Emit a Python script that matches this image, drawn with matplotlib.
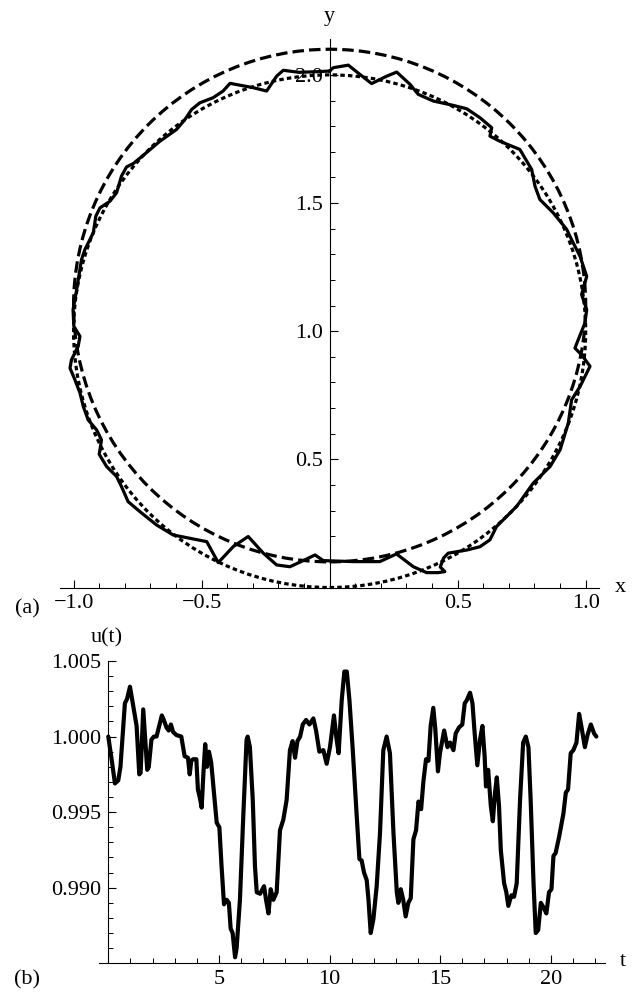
import matplotlib
matplotlib.use("Agg")
import matplotlib.pyplot as plt
import numpy as np
from matplotlib.patches import Circle
from matplotlib.ticker import FixedLocator

plt.rcParams['font.family'] = ['Liberation Serif', 'DejaVu Serif']

# ---- panel (a): reference circles and the perturbed orbit ----
dashed_center = (0.0, 1.1)
dashed_radius = 1.0
dotted_center = (0.0, 1.0)
dotted_radius = 1.0

orbit_x = [0.000, -0.060, -0.120, -0.181, -0.207, -0.246, -0.298, -0.389, -0.416, -0.455,
           -0.507, -0.539, -0.565, -0.598, -0.663, -0.728, -0.767, -0.793, -0.813, -0.832,
           -0.858, -0.897, -0.913, -0.923, -0.956, -0.969, -0.988, -1.002, -0.999, -0.975,
           -0.982, -1.008, -1.014, -0.995, -0.975, -0.962, -0.943, -0.910, -0.891, -0.897,
           -0.900, -0.871, -0.832, -0.813, -0.787, -0.741, -0.676, -0.611, -0.546, -0.480,
           -0.435, -0.376, -0.318, -0.259, -0.207, -0.155, -0.103, -0.057, -0.025, 0.092,
           0.196, 0.261, 0.327, 0.379, 0.424, 0.450, 0.432, 0.445, 0.463, 0.535,
           0.587, 0.626, 0.652, 0.691, 0.730, 0.795, 0.861, 0.900, 0.932, 0.945,
           0.978, 1.004, 1.017, 0.984, 0.958, 0.971, 0.997, 1.004, 0.984, 1.004,
           0.978, 0.945, 0.926, 0.873, 0.821, 0.802, 0.789, 0.743, 0.704, 0.665,
           0.626, 0.633, 0.587, 0.535, 0.483, 0.405, 0.346, 0.314, 0.262, 0.223,
           0.164, 0.118, 0.073, 0.014, 0.000]
orbit_y = [2.015, 2.012, 2.010, 2.018, 1.995, 1.937, 1.950, 1.967, 1.937, 1.911,
           1.891, 1.865, 1.826, 1.787, 1.741, 1.686, 1.654, 1.641, 1.605, 1.540,
           1.507, 1.481, 1.449, 1.384, 1.318, 1.279, 1.162, 1.084, 1.019, 0.980,
           0.941, 0.889, 0.856, 0.811, 0.759, 0.706, 0.654, 0.615, 0.576, 0.537,
           0.520, 0.472, 0.433, 0.394, 0.335, 0.296, 0.244, 0.205, 0.192, 0.179,
           0.097, 0.160, 0.199, 0.134, 0.088, 0.081, 0.105, 0.127, 0.105, 0.101,
           0.101, 0.131, 0.081, 0.058, 0.058, 0.062, 0.080, 0.115, 0.134, 0.146,
           0.159, 0.186, 0.238, 0.277, 0.316, 0.407, 0.472, 0.537, 0.641, 0.732,
           0.784, 0.837, 0.863, 0.908, 0.934, 0.967, 1.032, 1.084, 1.143, 1.214,
           1.292, 1.357, 1.397, 1.462, 1.514, 1.566, 1.631, 1.709, 1.725, 1.741,
           1.761, 1.794, 1.833, 1.868, 1.881, 1.898, 1.924, 1.963, 2.011, 1.995,
           1.966, 2.002, 2.038, 2.028, 2.015]

xticks_a = [-1.0, -0.5, 0.5, 1.0]
xtick_labels_a = ['\u22121.0', '\u22120.5', '0.5', '1.0']
yticks_a = [0.5, 1.0, 1.5, 2.0]
ytick_labels_a = ['0.5', '1.0', '1.5', '2.0']

# ---- panel (b): u(t) ----
t_vals = [0.00, 0.15, 0.30, 0.45, 0.55, 0.75, 0.85, 0.98, 1.05, 1.28,
          1.40, 1.46, 1.58, 1.65, 1.76, 1.83, 1.95, 2.06, 2.18, 2.30,
          2.42, 2.51, 2.63, 2.73, 2.83, 2.93, 3.08, 3.30, 3.45, 3.60,
          3.68, 3.75, 3.83, 3.98, 4.05, 4.13, 4.22, 4.30, 4.38, 4.46,
          4.55, 4.65, 4.78, 4.90, 5.02, 5.12, 5.23, 5.35, 5.45, 5.53,
          5.62, 5.73, 5.80, 5.95, 6.10, 6.25, 6.30, 6.40, 6.53, 6.63,
          6.71, 6.86, 7.04, 7.13, 7.24, 7.34, 7.46, 7.61, 7.76, 7.91,
          8.06, 8.21, 8.33, 8.44, 8.55, 8.67, 8.79, 8.94, 9.09, 9.27,
          9.39, 9.54, 9.72, 9.87, 10.02, 10.20, 10.32, 10.41, 10.55, 10.67,
          10.78, 10.90, 11.05, 11.23, 11.35, 11.45, 11.56, 11.68, 11.76, 11.86,
          11.98, 12.13, 12.28, 12.43, 12.58, 12.73, 12.89, 13.04, 13.11, 13.22,
          13.33, 13.44, 13.56, 13.67, 13.79, 13.91, 14.02, 14.14, 14.24, 14.36,
          14.47, 14.57, 14.69, 14.78, 14.90, 14.99, 15.18, 15.33, 15.45, 15.60,
          15.70, 15.85, 16.00, 16.11, 16.20, 16.35, 16.46, 16.56, 16.68, 16.80,
          16.91, 17.01, 17.07, 17.17, 17.29, 17.38, 17.48, 17.56, 17.66, 17.74,
          17.89, 17.99, 18.08, 18.22, 18.34, 18.46, 18.61, 18.75, 18.87, 18.99,
          19.09, 19.22, 19.32, 19.43, 19.55, 19.67, 19.80, 19.92, 20.03, 20.12,
          20.22, 20.38, 20.57, 20.68, 20.78, 20.90, 21.02, 21.16, 21.28, 21.38,
          21.54, 21.66, 21.81, 21.96, 22.06]
u_vals = [1.0000, 0.9985, 0.9969, 0.9971, 0.9980, 1.0022, 1.0025, 1.0033, 1.0027, 1.0007,
          0.9975, 0.9976, 1.0018, 1.0002, 0.9978, 0.9980, 0.9998, 1.0000, 1.0000, 1.0007,
          1.0014, 1.0011, 1.0006, 1.0004, 1.0008, 1.0003, 1.0001, 1.0000, 0.9987, 0.9986,
          0.9975, 0.9984, 0.9985, 0.9985, 0.9965, 0.9960, 0.9953, 0.9976, 0.9995, 0.9980,
          0.9990, 0.9983, 0.9962, 0.9943, 0.9940, 0.9914, 0.9889, 0.9892, 0.9890, 0.9873,
          0.9870, 0.9854, 0.9860, 0.9892, 0.9947, 0.9998, 1.0000, 0.9993, 0.9958, 0.9914,
          0.9897, 0.9896, 0.9901, 0.9892, 0.9883, 0.9899, 0.9892, 0.9897, 0.9938, 0.9945,
          0.9958, 0.9991, 0.9997, 0.9986, 0.9997, 1.0000, 1.0008, 1.0011, 1.0008, 1.0012,
          1.0004, 0.9990, 0.9991, 0.9982, 0.9993, 1.0014, 0.9998, 0.9989, 1.0024, 1.0043,
          1.0043, 1.0024, 0.9991, 0.9947, 0.9919, 0.9918, 0.9910, 0.9905, 0.9892, 0.9870,
          0.9879, 0.9901, 0.9936, 0.9991, 1.0000, 0.9989, 0.9936, 0.9897, 0.9890, 0.9899,
          0.9892, 0.9881, 0.9890, 0.9893, 0.9932, 0.9938, 0.9957, 0.9952, 0.9970, 0.9985,
          0.9984, 1.0007, 1.0019, 1.0005, 0.9977, 0.9989, 1.0004, 0.9993, 0.9996, 0.9991,
          1.0002, 1.0006, 1.0008, 1.0022, 1.0024, 1.0029, 1.0022, 1.0002, 0.9981, 0.9998,
          1.0007, 0.9987, 0.9967, 0.9978, 0.9954, 0.9944, 0.9963, 0.9973, 0.9954, 0.9925,
          0.9903, 0.9897, 0.9888, 0.9895, 0.9894, 0.9903, 0.9958, 0.9996, 1.0000, 0.9993,
          0.9958, 0.9903, 0.9870, 0.9872, 0.9890, 0.9887, 0.9883, 0.9897, 0.9899, 0.9921,
          0.9923, 0.9934, 0.9949, 0.9963, 0.9965, 0.9989, 0.9991, 0.9996, 1.0015, 1.0007,
          0.9993, 1.0001, 1.0008, 1.0002, 1.0000]

xticks_b = [5, 10, 15, 20]
yticks_b = [0.990, 0.995, 1.000, 1.005]

W, H = 644, 1001
FS = 16


def fx(px):
    return px / W


def fy(py):
    return 1 - py / H


fig = plt.figure(figsize=(W / 100, H / 100), dpi=100)

# ---------------- panel (a) ----------------
ax1 = fig.add_axes([60 / W, fy(587.5), 539 / W, 548.5 / H])
ax1.set_xlim(-1.053, 1.052)
ax1.set_ylim(0, 2.14)

ax1.add_patch(Circle(dashed_center, dashed_radius, fill=False, color='black', lw=2.3,
                     linestyle=(0, (3.6, 1.6)), clip_on=False))
ax1.add_patch(Circle(dotted_center, dotted_radius, fill=False, color='black', lw=2.3,
                     linestyle=(0, (1.4, 1.0)), clip_on=False))
ax1.plot(orbit_x, orbit_y, color='black', lw=2.3, solid_joinstyle='round',
         solid_capstyle='round', clip_on=False)

ax1.spines['left'].set_position(('data', 0))
ax1.spines['top'].set_visible(False)
ax1.spines['right'].set_visible(False)
for s in ('left', 'bottom'):
    ax1.spines[s].set_linewidth(0.8)

ax1.xaxis.set_major_locator(FixedLocator(xticks_a))
ax1.set_xticklabels(xtick_labels_a)
ax1.xaxis.set_minor_locator(FixedLocator([v for v in np.round(np.arange(-1.0, 1.01, 0.1), 2)
                                          if v != 0.0]))
ax1.yaxis.set_major_locator(FixedLocator(yticks_a))
ax1.set_yticklabels(ytick_labels_a)
ax1.yaxis.set_minor_locator(FixedLocator(np.round(np.arange(0.1, 2.11, 0.1), 2)))
ax1.tick_params(which='major', direction='in', length=6, width=0.8, labelsize=FS, pad=5)
ax1.tick_params(which='minor', direction='in', length=3.5, width=0.7)

# ---------------- panel (b) ----------------
ax2 = fig.add_axes([99 / W, fy(963.3), 506 / W, 302.3 / H])
ax2.set_xlim(-0.42, 22.45)
ax2.set_ylim(0.985, 1.005)
ax2.plot(t_vals, u_vals, color='black', lw=3.0, solid_joinstyle='round',
         solid_capstyle='round', clip_on=False)

ax2.spines['left'].set_position(('data', 0))
ax2.spines['top'].set_visible(False)
ax2.spines['right'].set_visible(False)
for s in ('left', 'bottom'):
    ax2.spines[s].set_linewidth(0.8)

ax2.xaxis.set_major_locator(FixedLocator(xticks_b))
ax2.set_xticklabels([str(v) for v in xticks_b])
ax2.xaxis.set_minor_locator(FixedLocator(list(range(1, 23))))
ax2.yaxis.set_major_locator(FixedLocator(yticks_b))
ax2.set_yticklabels(['%.3f' % v for v in yticks_b])
ax2.yaxis.set_minor_locator(FixedLocator(np.round(np.arange(0.986, 1.0051, 0.001), 3)))
ax2.tick_params(which='major', direction='in', length=6, width=0.8, labelsize=FS, pad=5)
ax2.tick_params(which='minor', direction='in', length=3.5, width=0.7)

# axis names and panel tags
fig.text(fx(329), fy(17), 'y', ha='center', va='center', fontsize=FS)
fig.text(fx(620), fy(588), 'x', ha='center', va='center', fontsize=FS)
fig.text(fx(27), fy(609), '(a)', ha='center', va='center', fontsize=FS)
fig.text(fx(107), fy(638), 'u(t)', ha='center', va='center', fontsize=FS)
fig.text(fx(623), fy(962), 't', ha='center', va='center', fontsize=FS)
fig.text(fx(27), fy(980), '(b)', ha='center', va='center', fontsize=FS)

fig.savefig('out.png', dpi=100)
